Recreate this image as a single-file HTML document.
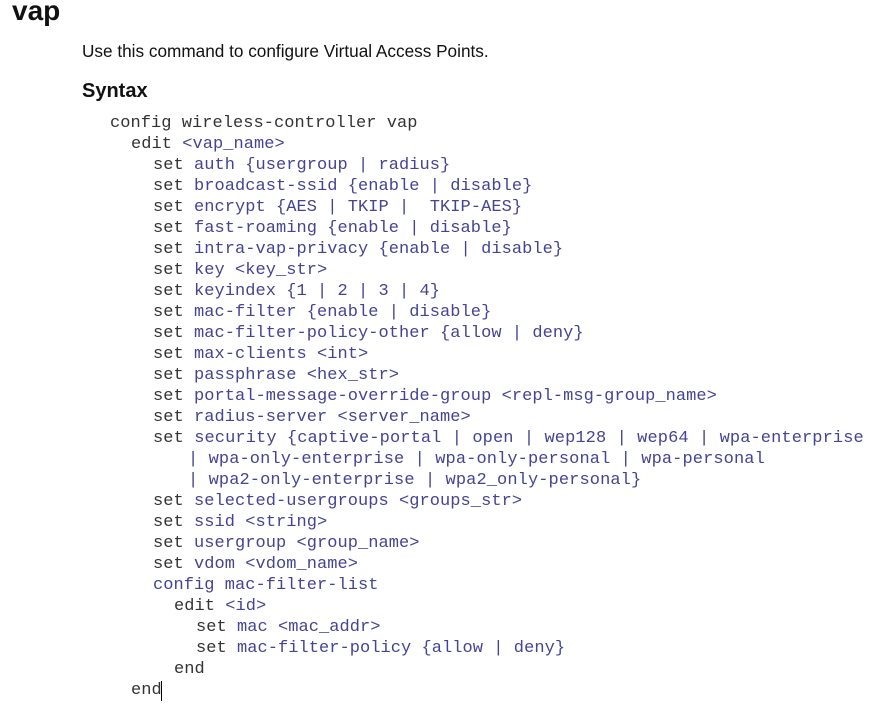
<!DOCTYPE html>
<html><head><meta charset="utf-8"><style>
body{margin:0;width:895px;height:706px;background:#fff;position:relative;overflow:hidden;font-family:"Liberation Sans",sans-serif;}
.t{position:absolute;white-space:pre;}
.c{position:absolute;white-space:pre;font-family:"Liberation Mono",monospace;font-size:17px;line-height:21px;color:#444494;letter-spacing:0.05px;}
.k{color:#333;}
</style></head><body>
<div class="t" style="left:12px;top:-5px;font-size:28px;font-weight:bold;color:#111;">vap</div>
<div class="t" style="left:82px;top:41px;font-size:17.2px;color:#111;">Use this command to configure Virtual Access Points.</div>
<div class="t" style="left:82px;top:80px;font-size:20px;font-weight:bold;color:#111;">Syntax</div>
<div class="c k" style="left:110px;top:113px">config wireless-controller vap</div>
<div class="c" style="left:131px;top:134px"><span class="k">edit</span> &lt;vap_name&gt;</div>
<div class="c" style="left:153px;top:155px"><span class="k">set</span> auth {usergroup | radius}</div>
<div class="c" style="left:153px;top:176px"><span class="k">set</span> broadcast-ssid {enable | disable}</div>
<div class="c" style="left:153px;top:197px"><span class="k">set</span> encrypt {AES | TKIP |  TKIP-AES}</div>
<div class="c" style="left:153px;top:218px"><span class="k">set</span> fast-roaming {enable | disable}</div>
<div class="c" style="left:153px;top:239px"><span class="k">set</span> intra-vap-privacy {enable | disable}</div>
<div class="c" style="left:153px;top:260px"><span class="k">set</span> key &lt;key_str&gt;</div>
<div class="c" style="left:153px;top:281px"><span class="k">set</span> keyindex {1 | 2 | 3 | 4}</div>
<div class="c" style="left:153px;top:302px"><span class="k">set</span> mac-filter {enable | disable}</div>
<div class="c" style="left:153px;top:323px"><span class="k">set</span> mac-filter-policy-other {allow | deny}</div>
<div class="c" style="left:153px;top:344px"><span class="k">set</span> max-clients &lt;int&gt;</div>
<div class="c" style="left:153px;top:365px"><span class="k">set</span> passphrase &lt;hex_str&gt;</div>
<div class="c" style="left:153px;top:386px"><span class="k">set</span> portal-message-override-group &lt;repl-msg-group_name&gt;</div>
<div class="c" style="left:153px;top:407px"><span class="k">set</span> radius-server &lt;server_name&gt;</div>
<div class="c" style="left:153px;top:428px;letter-spacing:0.1px"><span class="k">set</span> security {captive-portal | open | wep128 | wep64 | wpa-enterprise</div>
<div class="c" style="left:188px;top:449px;letter-spacing:0.1px">| wpa-only-enterprise | wpa-only-personal | wpa-personal</div>
<div class="c" style="left:188px;top:470px;letter-spacing:0.1px">| wpa2-only-enterprise | wpa2_only-personal}</div>
<div class="c" style="left:153px;top:491px"><span class="k">set</span> selected-usergroups &lt;groups_str&gt;</div>
<div class="c" style="left:153px;top:512px"><span class="k">set</span> ssid &lt;string&gt;</div>
<div class="c" style="left:153px;top:533px"><span class="k">set</span> usergroup &lt;group_name&gt;</div>
<div class="c" style="left:153px;top:554px"><span class="k">set</span> vdom &lt;vdom_name&gt;</div>
<div class="c" style="left:153px;top:575px">config mac-filter-list</div>
<div class="c" style="left:174px;top:596px"><span class="k">edit</span> &lt;id&gt;</div>
<div class="c" style="left:196px;top:617px"><span class="k">set</span> mac &lt;mac_addr&gt;</div>
<div class="c" style="left:196px;top:638px"><span class="k">set</span> mac-filter-policy {allow | deny}</div>
<div class="c k" style="left:174px;top:659px">end</div>
<div class="c k" style="left:131px;top:680px">end</div>
<div style="position:absolute;left:161px;top:681px;width:1px;height:20px;background:#000"></div>
</body></html>
